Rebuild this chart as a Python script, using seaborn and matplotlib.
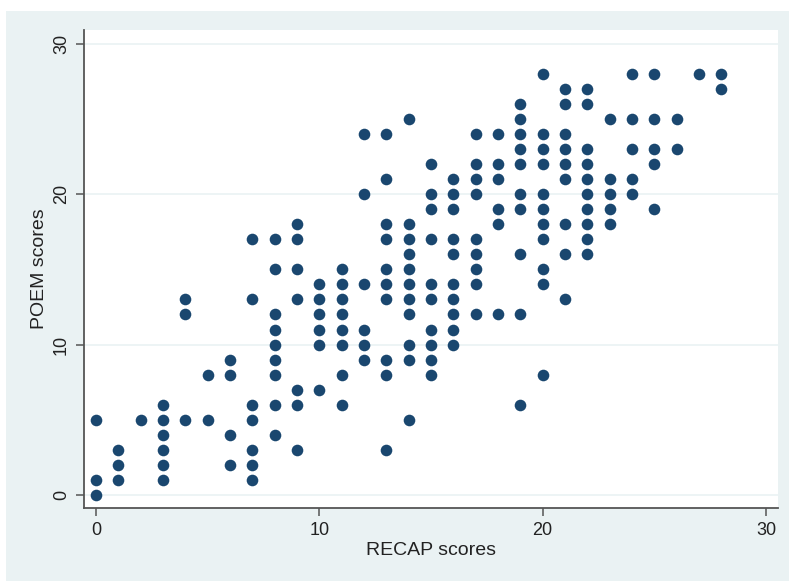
import matplotlib
matplotlib.use("Agg")
import matplotlib.pyplot as plt
from matplotlib.patches import Rectangle
import pandas as pd
import seaborn as sns

# RECAP score -> list of POEM scores observed at that RECAP value
recap_scores = list(range(0, 29))
poem_by_recap = [
    [5, 1, 0],
    [3, 2, 1],
    [5],
    [6, 5, 4, 3, 2, 1],
    [13, 12, 5],
    [8, 5],
    [9, 8, 4, 2],
    [17, 13, 6, 5, 3, 2, 1],
    [17, 15, 12, 11, 10, 9, 8, 6, 4],
    [18, 17, 15, 13, 7, 6, 3],
    [14, 13, 12, 11, 10, 7],
    [15, 14, 13, 12, 11, 10, 8, 6],
    [24, 20, 14, 11, 10, 9],
    [24, 21, 18, 17, 15, 14, 13, 9, 8, 3],
    [25, 18, 17, 16, 15, 14, 13, 12, 10, 9, 5],
    [22, 20, 19, 17, 14, 13, 11, 10, 9, 8],
    [21, 20, 19, 17, 16, 14, 13, 12, 11, 10],
    [24, 22, 21, 20, 17, 16, 15, 14, 12],
    [24, 22, 21, 19, 18, 12],
    [26, 25, 24, 23, 22, 20, 19, 16, 12, 6],
    [28, 24, 23, 22, 20, 19, 18, 17, 15, 14, 8],
    [27, 26, 24, 23, 22, 21, 18, 16, 13],
    [27, 26, 23, 22, 21, 20, 19, 18, 17, 16],
    [25, 21, 20, 19, 18],
    [28, 25, 23, 21, 20],
    [28, 25, 23, 22, 19],
    [25, 23],
    [28],
    [28, 27],
]

x_ticks = [0, 10, 20, 30]
y_ticks = [0, 10, 20, 30]

recap = [r for r, ps in zip(recap_scores, poem_by_recap) for _ in ps]
poem = [p for ps in poem_by_recap for p in ps]
df = pd.DataFrame({"RECAP scores": recap, "POEM scores": poem})

sns.set_style("white")
plt.rcParams["font.family"] = ["Liberation Sans", "DejaVu Sans"]

W, H = 789, 581
fig = plt.figure(figsize=(W / 100, H / 100), dpi=100, facecolor="white")

# light blue-gray graph region behind the plot area
bg = Rectangle((6 / W, 0), 1 - 6 / W, 1 - 11 / H,
               transform=fig.transFigure, facecolor="#EAF2F3",
               edgecolor="none", zorder=-10)
fig.add_artist(bg)

ax = fig.add_axes([84 / W, 1 - 508 / H, (778 - 84) / W, (508 - 30) / H])
ax.set_zorder(5)
ax.set_facecolor("white")

sns.scatterplot(data=df, x="RECAP scores", y="POEM scores", ax=ax,
                color="#1A476F", s=70, linewidth=0, zorder=3)

ax.set_xlim(-0.54, 30.54)
ax.set_ylim(-0.86, 30.9)
ax.set_xticks(x_ticks)
ax.set_yticks(y_ticks)

for y in y_ticks:
    ax.axhline(y, color="#EAF2F3", linewidth=1.2, zorder=1)

for side in ("top", "right"):
    ax.spines[side].set_visible(False)
for side in ("left", "bottom"):
    ax.spines[side].set_color("#555555")
    ax.spines[side].set_linewidth(1.3)

ax.tick_params(axis="both", direction="out", length=6, width=1.1,
               color="#555555", labelsize=13, labelcolor="#222222", pad=4)
ax.tick_params(axis="x", bottom=True)
ax.tick_params(axis="y", left=True)
for lbl in ax.get_yticklabels():
    lbl.set_rotation(90)
    lbl.set_va("center")

ax.set_xlabel("RECAP scores", fontsize=14, color="#222222", labelpad=2)
ax.set_ylabel("POEM scores", fontsize=14, color="#222222", labelpad=4)

fig.savefig("out.png", dpi=100, facecolor="white")
